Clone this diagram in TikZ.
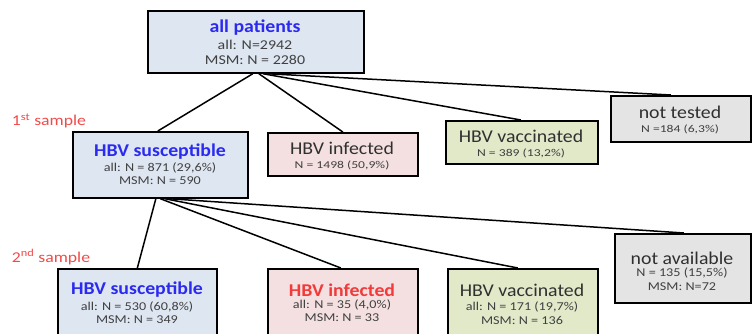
\documentclass[tikz,border=0pt]{standalone}
\usepackage{fontspec}
\setmainfont{Carlito}
\newfontfamily\wfont[FakeStretch=1.1]{Carlito}
\newfontfamily\sfont[FakeStretch=1.18]{Carlito}
\newfontfamily\xfont[FakeStretch=1.3]{Carlito}
\definecolor{bluefill}{HTML}{DEE6F2}
\definecolor{pinkfill}{HTML}{F4E0E0}
\definecolor{greenfill}{HTML}{E1E9C9}
\definecolor{greyfill}{HTML}{E4E4E4}
\definecolor{titleblue}{HTML}{2A2AF0}
\definecolor{titlered}{HTML}{F23A3A}
\definecolor{labelred}{HTML}{F04A4A}
\definecolor{darktext}{HTML}{303030}
\definecolor{graytext}{HTML}{404040}
\begin{document}
\begin{tikzpicture}[x=1pt,y=-1pt,
  box/.style={draw=black, line width=1.7pt, inner sep=0pt, anchor=north west},
  conn/.style={draw=black, line width=1.5pt},
  ttl/.style={font=\wfont\fontsize{18}{18}\selectfont, text=darktext, inner sep=0pt},
  bttl/.style={font=\wfont\fontsize{18}{18}\selectfont\bfseries, inner sep=0pt},
  small/.style={font=\sfont\fontsize{12}{12}\selectfont, text=graytext, inner sep=0pt},
  rowsmall/.style={font=\xfont\fontsize{10.5}{10.5}\selectfont, text=graytext, inner sep=0pt},
  topsmall/.style={font=\sfont\fontsize{13.5}{13.5}\selectfont, text=graytext, inner sep=0pt},
  lbl/.style={font=\sfont\fontsize{15}{15}\selectfont, text=labelred, inner sep=0pt}]
\useasboundingbox (0,0) rectangle (753,333);
% boxes
\node[box, fill=bluefill,  minimum width=216pt, minimum height=62pt] (top) at (147,10) {};
\node[box, fill=bluefill,  minimum width=175pt, minimum height=66pt] (s1) at (72,131) {};
\node[box, fill=pinkfill,  minimum width=150pt, minimum height=43pt] (i1) at (267,132) {};
\node[box, fill=greenfill, minimum width=152pt, minimum height=43pt] (v1) at (445,120) {};
\node[box, fill=greyfill,  minimum width=140pt, minimum height=46pt] (nt) at (610,95) {};
\node[box, fill=bluefill,  minimum width=159pt, minimum height=80pt] (s2) at (57,268) {};
\node[box, fill=pinkfill,  minimum width=150pt, minimum height=80pt] (i2) at (267,268) {};
\node[box, fill=greenfill, minimum width=150pt, minimum height=80pt] (v2) at (447,268) {};
\node[box, fill=greyfill,  minimum width=136pt, minimum height=69pt] (na) at (614,233) {};
% connectors
\draw[conn] ([xshift=-3pt]top.south) -- ([xshift=-2.5pt]s1.north);
\draw[conn] ([xshift=3pt]top.south) -- (i1.north);
\draw[conn] ([xshift=7pt]top.south) -- ([xshift=-1pt]v1.north);
\draw[conn] ([xshift=11pt]top.south) -- ([xshift=-10pt]nt.north);
\draw[conn] ([xshift=-4.5pt]s1.south) -- (s2.north);
\draw[conn] (s1.south) -- ([xshift=-2pt]i2.north);
\draw[conn] ([xshift=4.5pt]s1.south) -- ([xshift=-5pt]v2.north);
\draw[conn] ([xshift=8.5pt]s1.south) -- ([xshift=1pt]na.north);
% texts
\node[bttl, text=titleblue] (topT) at (255,28) {all patients};
\node[topsmall] (topA) at (255,45) {all: N=2942};
\node[topsmall] (topM) at (255,60) {MSM: N = 2280};
\node[bttl, text=titleblue] (s1T) at (160,152) {HBV susceptible};
\node[small] (s1A) at (160,168) {all: N = 871 (29,6\%)};
\node[small] (s1M) at (160,181) {MSM: N = 590};
\node[ttl] (i1T) at (342,148) {HBV infected};
\node[rowsmall] (i1A) at (342,165) {N = 1498 (50,9\%)};
\node[ttl] (v1T) at (521,136) {HBV vaccinated};
\node[rowsmall] (v1A) at (521,153) {N = 389 (13,2\%)};
\node[ttl] (ntT) at (680,112) {not tested};
\node[rowsmall] (ntA) at (680,129) {N =184 (6,3\%)};
\node[bttl, text=titleblue] (s2T) at (137,290) {HBV susceptible};
\node[small] (s2A) at (137,307) {all: N = 530 (60,8\%)};
\node[small] (s2M) at (137,320) {MSM: N = 349};
\node[bttl, text=titlered] (i2T) at (342,290) {HBV infected};
\node[small] (i2A) at (342,305) {all: N = 35 (4,0\%)};
\node[small] (i2M) at (342,318) {MSM: N = 33};
\node[ttl] (v2T) at (522,290) {HBV vaccinated};
\node[small] (v2A) at (522,307) {all: N = 171 (19,7\%)};
\node[small] (v2M) at (522,320) {MSM: N = 136};
\node[ttl] (naT) at (682,258) {not available};
\node[small] (naA) at (682,273) {N = 135 (15,5\%)};
\node[small] (naM) at (682,287) {MSM: N=72};
\node[lbl] (l1) at (49,121) {1\textsuperscript{st} sample};
\node[lbl] (l2) at (51,257) {2\textsuperscript{nd} sample};
\end{tikzpicture}
\end{document}
